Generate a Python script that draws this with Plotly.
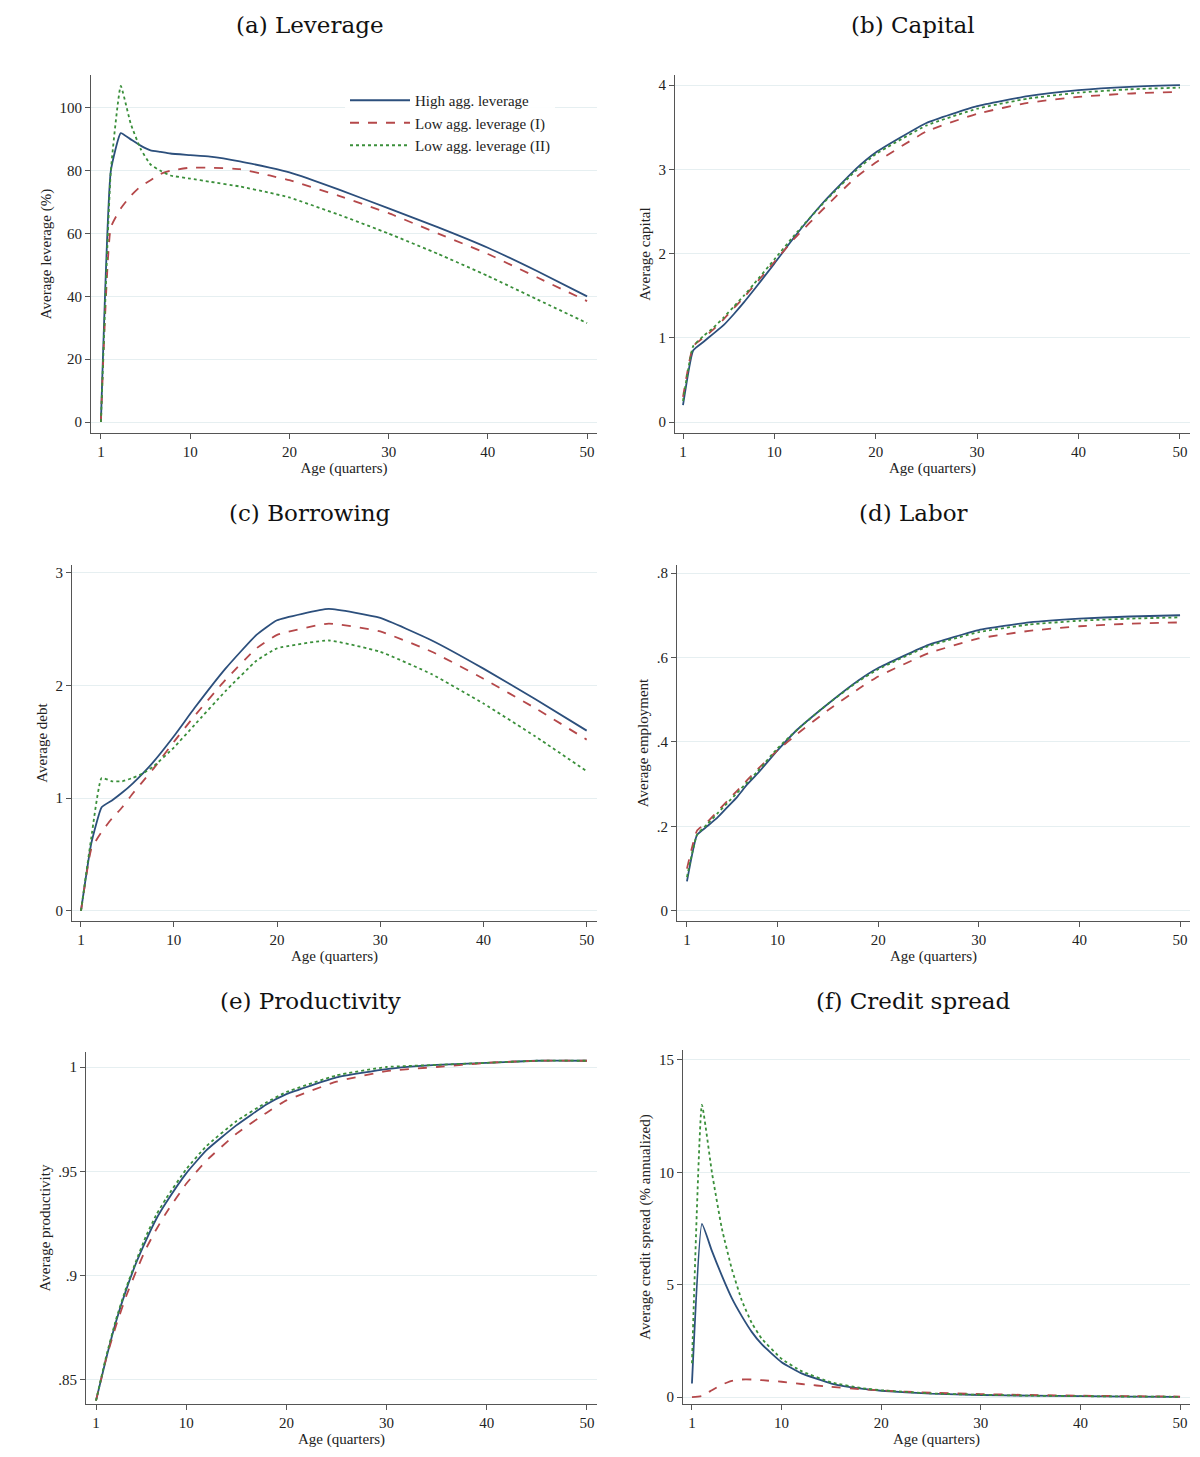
import plotly.graph_objects as go

W, H = 1184, 1440
OFF = 8  # page margin in the browser

age = [1, 2, 3, 4, 5, 6, 7, 8, 10, 12, 15, 18, 20, 25, 30, 35, 40, 45, 50]

lev_high = [0, 80, 92, 90, 88, 86.5, 86, 85.5, 85, 84.5, 83, 81, 79.5, 74, 68, 62, 55.5, 48, 40]
lev_low1 = [0, 62, 68, 72, 75, 77, 79, 80, 81, 81, 80.5, 78.5, 77, 72, 66.5, 60, 53.5, 46, 38.5]
lev_low2 = [0, 80, 107, 95, 87, 82, 80, 78.5, 77.5, 76.5, 75, 73, 71.5, 66, 60, 53.5, 46.5, 39, 31.5]

cap_high = [0.2, 0.85, 0.95, 1.05, 1.15, 1.28, 1.42, 1.57, 1.88, 2.2, 2.63, 3.0, 3.2, 3.55, 3.75, 3.87, 3.94, 3.98, 4.0]
cap_low1 = [0.3, 0.9, 1.0, 1.1, 1.22, 1.35, 1.48, 1.62, 1.9, 2.18, 2.55, 2.9, 3.08, 3.45, 3.66, 3.79, 3.86, 3.9, 3.92]
cap_low2 = [0.25, 0.9, 1.02, 1.12, 1.24, 1.37, 1.5, 1.64, 1.93, 2.22, 2.62, 2.98, 3.18, 3.52, 3.72, 3.84, 3.91, 3.95, 3.97]

debt_high = [0, 0.6, 0.92, 0.98, 1.05, 1.13, 1.22, 1.32, 1.55, 1.8, 2.15, 2.45, 2.58, 2.68, 2.6, 2.4, 2.15, 1.88, 1.6]
debt_low1 = [0, 0.55, 0.7, 0.82, 0.92, 1.04, 1.15, 1.26, 1.5, 1.73, 2.05, 2.33, 2.45, 2.55, 2.48, 2.3, 2.06, 1.8, 1.52]
debt_low2 = [0, 0.65, 1.18, 1.15, 1.15, 1.18, 1.22, 1.28, 1.45, 1.65, 1.95, 2.22, 2.33, 2.4, 2.3, 2.1, 1.84, 1.55, 1.24]

lab_high = [0.07, 0.18, 0.2, 0.22, 0.245, 0.27, 0.3, 0.325, 0.38, 0.43, 0.49, 0.545, 0.575, 0.63, 0.665, 0.683, 0.692, 0.697, 0.7]
lab_low1 = [0.1, 0.19, 0.21, 0.235, 0.26, 0.285, 0.31, 0.335, 0.38, 0.42, 0.475, 0.525, 0.555, 0.61, 0.645, 0.663, 0.674, 0.68, 0.683]
lab_low2 = [0.08, 0.18, 0.205, 0.23, 0.255, 0.28, 0.305, 0.33, 0.385, 0.43, 0.49, 0.543, 0.572, 0.627, 0.66, 0.678, 0.687, 0.692, 0.695]

prod_high = [0.84, 0.86, 0.878, 0.893, 0.906, 0.917, 0.927, 0.935, 0.949, 0.96, 0.972, 0.982, 0.987, 0.995, 0.999, 1.001, 1.002, 1.003, 1.003]
prod_low1 = [0.84, 0.86, 0.876, 0.89, 0.902, 0.913, 0.922, 0.93, 0.944, 0.955, 0.968, 0.978, 0.984, 0.993, 0.998, 1.0, 1.002, 1.003, 1.003]
prod_low2 = [0.84, 0.861, 0.879, 0.894, 0.907, 0.919, 0.929, 0.937, 0.951, 0.962, 0.974, 0.983, 0.988, 0.996, 1.0, 1.001, 1.002, 1.003, 1.003]

spr_high = [0.6, 7.7, 6.5, 5.4, 4.4, 3.6, 2.9, 2.35, 1.55, 1.05, 0.6, 0.37, 0.28, 0.15, 0.09, 0.06, 0.04, 0.02, 0.01]
spr_low1 = [0, 0.05, 0.3, 0.55, 0.72, 0.78, 0.78, 0.75, 0.68, 0.58, 0.45, 0.35, 0.29, 0.19, 0.13, 0.09, 0.06, 0.04, 0.02]
spr_low2 = [1.5, 13.0, 10.0, 7.5, 5.7, 4.3, 3.3, 2.6, 1.7, 1.15, 0.65, 0.4, 0.3, 0.16, 0.1, 0.06, 0.04, 0.02, 0.01]

x_ticks = [1, 10, 20, 30, 40, 50]
names = ["High agg. leverage", "Low agg. leverage (I)", "Low agg. leverage (II)"]
styles = [("#2c4f7c", "solid"), ("#b5484a", "dash"), ("#3a8f3a", "dot")]

# title, ylabel, series, pixel box (x0,x1,y0,y1), xrange, yrange, yticks, yticktext
panels = [
    ("(a) Leverage", "Average leverage (%)", (lev_high, lev_low1, lev_low2),
     (91, 597, 75, 433), [0.0, 51.0], [-3.5, 110.5], [0, 20, 40, 60, 80, 100], None),
    ("(b) Capital", "Average capital", (cap_high, cap_low1, cap_low2),
     (675, 1190, 75, 433), [0.21, 50.99], [-0.13, 4.12], [0, 1, 2, 3, 4], None),
    ("(c) Borrowing", "Average debt", (debt_high, debt_low1, debt_low2),
     (72, 597, 565, 921), [0.13, 51.0], [-0.09, 3.07], [0, 1, 2, 3], None),
    ("(d) Labor", "Average employment", (lab_high, lab_low1, lab_low2),
     (677, 1190, 565, 921), [0.01, 50.99], [-0.024, 0.819], [0, 0.2, 0.4, 0.6, 0.8],
     ["0", ".2", ".4", ".6", ".8"]),
    ("(e) Productivity", "Average productivity", (prod_high, prod_low1, prod_low2),
     (86, 597, 1052, 1404), [0.0, 51.0], [0.8384, 1.0072], [0.85, 0.9, 0.95, 1],
     [".85", ".9", ".95", "1"]),
    ("(f) Credit spread", "Average credit spread (% annualized)", (spr_high, spr_low1, spr_low2),
     (683, 1190, 1050, 1404), [0.1, 51.0], [-0.31, 15.44], [0, 5, 10, 15], None),
]

title_y = [25, 25, 513, 513, 1001, 1001]
title_x = [310, 913, 310, 913, 310, 913]


def fx(px):
    return (px - OFF) / W


def fy(py):
    return 1 - (py - OFF) / H


fig = go.Figure()
layout = {}
annotations = []
for i, (title, ylab, series, box, xr, yr, yt, ytt) in enumerate(panels):
    n = "" if i == 0 else str(i + 1)
    x0, x1, y0, y1 = box
    for j, ys in enumerate(series):
        c, d = styles[j]
        fig.add_trace(go.Scatter(
            x=age, y=ys, mode="lines", name=names[j], showlegend=(i == 0),
            line=dict(color=c, dash=d, width=1.8, shape="spline", smoothing=0.4),
            xaxis="x" + n, yaxis="y" + n))
    layout["xaxis" + n] = dict(
        domain=[fx(x0), fx(x1)], range=xr, anchor="y" + n, tickvals=x_ticks,
        showgrid=False, showline=True, linecolor="#555", ticks="outside",
        ticklen=5, tickcolor="#555", zeroline=False, automargin=False,
        title=dict(text="Age (quarters)", standoff=0, font=dict(size=15)))
    layout["yaxis" + n] = dict(
        domain=[fy(y1), fy(y0)], range=yr, anchor="x" + n, tickvals=yt,
        ticktext=ytt, showgrid=True, gridcolor="#e6eff1", showline=True,
        linecolor="#555", ticks="outside", ticklen=5, tickcolor="#555",
        zeroline=False, automargin=False,
        title=dict(text=ylab, standoff=4, font=dict(size=15)))
    annotations.append(dict(
        text=title, x=fx(title_x[i]), y=fy(title_y[i]), xref="paper", yref="paper",
        xanchor="center", yanchor="middle", showarrow=False,
        font=dict(size=23, family="DejaVu Serif, serif", color="#111")))

fig.update_layout(
    width=W, height=H, margin=dict(l=0, r=0, t=0, b=0, autoexpand=False),
    paper_bgcolor="white", plot_bgcolor="white",
    font=dict(family="Liberation Serif, serif", size=15, color="#222"),
    annotations=annotations,
    legend=dict(x=fx(345), y=fy(84), xanchor="left", yanchor="top",
                bgcolor="rgba(255,255,255,0.9)", font=dict(size=15),
                itemwidth=60, tracegroupgap=0),
    **layout)

fig.write_html("out.html")
